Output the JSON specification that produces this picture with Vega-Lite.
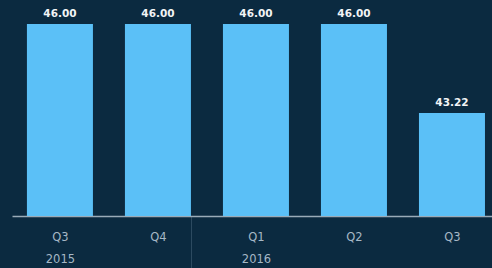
{
  "$schema": "https://vega.github.io/schema/vega-lite/v6.json",
  "autosize": "none",
  "width": 480,
  "height": 216,
  "padding": {"left": 12, "top": 0, "right": 0, "bottom": 52},
  "background": "#0b2a40",
  "config": {"view": {"stroke": null}},
  "data": {"values": [
    {"q": "Q3|2015", "v": 46.00},
    {"q": "Q4|2015", "v": 46.00},
    {"q": "Q1|2016", "v": 46.00},
    {"q": "Q2|2016", "v": 46.00},
    {"q": "Q3|2016", "v": 43.22}
  ]},
  "encoding": {
    "x": {"field": "q", "type": "nominal", "sort": null,
      "scale": {"paddingInner": 0.3265, "paddingOuter": 0.112, "align": 0.68},
      "axis": {"title": null, "labelAngle": 0,
        "labelExpr": "!datum.value ? '' : ((datum.value == 'Q3|2015' || datum.value == 'Q1|2016') ? split(datum.value, '|') : split(datum.value, '|')[0])",
        "labelFont": "DejaVu Sans", "labelFontSize": 11.5, "labelColor": "#a6b8c6",
        "labelLineHeight": 22, "labelBaseline": "top",
        "tickBand": "extent", "tickSize": 52, "tickWidth": 1,
        "tickColor": {"condition": {"test": "datum.value == 'Q4|2015'", "value": "#2c4a60"}, "value": "transparent"},
        "labelPadding": -37,
        "domainColor": "#9aabb8", "domainWidth": 1.5, "grid": false}},
    "y": {"field": "v", "type": "quantitative",
      "scale": {"domain": [40, 46.75], "zero": false, "nice": false},
      "axis": null}
  },
  "layer": [
    {"mark": {"type": "bar", "color": "#5bc0f7", "clip": true}},
    {"mark": {"type": "text", "dy": -7, "baseline": "alphabetic", "font": "DejaVu Sans", "fontWeight": "bold", "fontSize": 10.5, "color": "#f2f4f6"},
     "encoding": {"text": {"field": "v", "type": "quantitative", "format": ".2f"}}}
  ]
}
